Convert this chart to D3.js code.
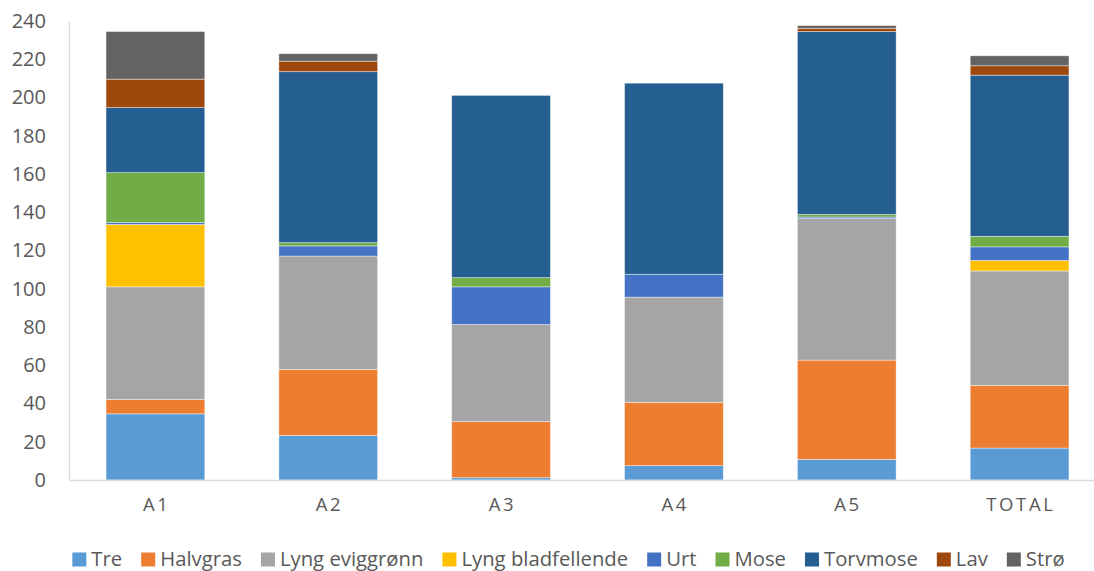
<!DOCTYPE html>
<html>
<head>
<meta charset="utf-8">
<script src="https://cdn.jsdelivr.net/npm/d3@7"></script>
<style>
  html, body { margin: 0; padding: 0; background: #fff; }
  svg { display: block; font-family: "Open Sans", sans-serif; }
</style>
</head>
<body>
<svg id="chart" width="1094" height="571"></svg>
<script>
// Plots (A1–A5) and the overall total
const categories = ["A1", "A2", "A3", "A4", "A5", "TOTAL"];

// Cover per vegetation group, one value per plot
const seriesNames = ["Tre", "Halvgras", "Lyng eviggrønn", "Lyng bladfellende", "Urt", "Mose", "Torvmose", "Lav", "Strø"];
const tre              = [34.6, 23.3,  1.2,  7.5, 10.8, 16.7];
const halvgras         = [ 7.5, 34.5, 29.3, 33.1, 51.9, 32.8];
const lyngEviggronn    = [58.9, 59.3, 50.8, 55.0, 74.0, 59.8];
const lyngBladfellende = [32.6,  0.0,  0.0,  0.0,  0.0,  5.5];
const urt              = [ 1.0,  5.3, 19.7, 12.0,  0.8,  7.1];
const mose             = [26.1,  1.7,  4.8,  0.0,  1.3,  5.5];
const torvmose         = [34.0, 89.4, 95.3, 99.9, 95.7, 84.3];
const lav              = [14.9,  5.5,  0.0,  0.0,  1.7,  4.9];
const stro             = [24.9,  3.9,  0.0,  0.0,  1.4,  5.2];

const yTicks = [0, 20, 40, 60, 80, 100, 120, 140, 160, 180, 200, 220, 240];
const colors = ["#5B9BD5", "#ED7D31", "#A5A5A5", "#FFC000", "#4472C4", "#70AD47", "#255E91", "#9E480E", "#636363"];

const seriesValues = [tre, halvgras, lyngEviggronn, lyngBladfellende, urt, mose, torvmose, lav, stro];
const rows = categories.map((c, i) => {
  const r = { category: c };
  seriesNames.forEach((s, k) => { r[s] = seriesValues[k][i]; });
  return r;
});

const svg = d3.select("#chart");
const plotLeft = 69, plotRight = 1106, plotTop = 21, plotBottom = 480;

const x = d3.scaleBand()
  .domain(categories)
  .range([plotLeft, plotRight])
  .paddingInner(0.4286)
  .paddingOuter(0.2143);

const y = d3.scaleLinear().domain([0, 240]).range([plotBottom, plotTop]);

const stacked = d3.stack().keys(seriesNames)(rows);
const color = d3.scaleOrdinal().domain(seriesNames).range(colors);

// Stacked bars
svg.append("g")
  .selectAll("g")
  .data(stacked)
  .join("g")
  .attr("fill", d => color(d.key))
  .selectAll("rect")
  .data(d => d)
  .join("rect")
  .attr("x", d => x(d.data.category))
  .attr("width", x.bandwidth())
  .attr("y", d => y(d[1]))
  .attr("height", d => y(d[0]) - y(d[1]))
  .attr("stroke", "#ffffff")
  .attr("stroke-opacity", 0.55)
  .attr("stroke-width", 0.75);

// Y axis
const yAxis = svg.append("g")
  .attr("transform", `translate(${plotLeft},0)`)
  .call(d3.axisLeft(y).tickValues(yTicks).tickSize(0).tickPadding(23));
yAxis.select(".domain").attr("stroke", "#d9d9d9").attr("stroke-width", 1.5);
yAxis.selectAll("text")
  .attr("fill", "#595959")
  .style("font-size", "20px")
  .style("font-family", "'Open Sans', sans-serif");

// X axis with letter-spaced category names
const xAxis = svg.append("g")
  .attr("transform", `translate(0,${plotBottom})`)
  .call(d3.axisBottom(x).tickSize(0).tickPadding(18));
xAxis.select(".domain").attr("stroke", "#d9d9d9").attr("stroke-width", 1.5);
xAxis.selectAll("text")
  .attr("fill", "#595959")
  .attr("dx", "1.3px")
  .style("font-size", "18.5px")
  .style("letter-spacing", "2.6px")
  .style("font-family", "'Open Sans', sans-serif");

// Legend, laid out from the measured label widths and centred under the plot
const legend = svg.append("g");
const items = legend.selectAll("g").data(seriesNames).join("g");
items.append("rect")
  .attr("width", 14).attr("height", 14)
  .attr("y", 552.5)
  .attr("fill", d => color(d));
items.append("text")
  .attr("x", 19)
  .attr("y", 559)
  .attr("dy", "0.35em")
  .attr("fill", "#595959")
  .style("font-size", "20.3px")
  .text(d => d);

let cursor = 0;
const gap = 19;
items.each(function () {
  const g = d3.select(this);
  const w = g.select("text").node().getComputedTextLength();
  g.attr("transform", `translate(${cursor},0)`);
  cursor += 19 + w + gap;
});
const total = cursor - gap;
legend.attr("transform", `translate(${568.5 - total / 2},0)`);
</script>
</body>
</html>
